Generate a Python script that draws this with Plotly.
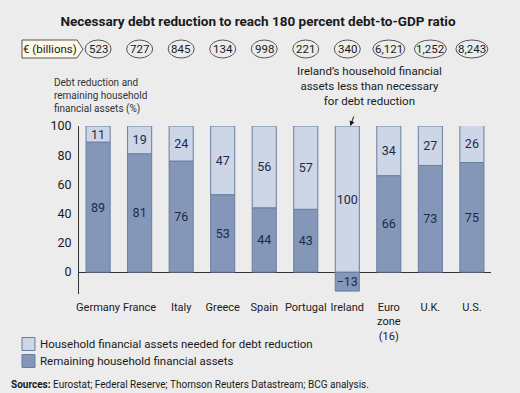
import plotly.graph_objects as go

countries = ["Germany", "France", "Italy", "Greece", "Spain", "Portugal",
             "Ireland", "Euro<br>zone<br>(16)", "U.K.", "U.S."]
needed = [11, 19, 24, 47, 56, 57, 100, 34, 27, 26]
remaining = [89, 81, 76, 53, 44, 43, -13, 66, 73, 75]
debt_bn = ["523", "727", "845", "134", "998", "221", "340", "6,121", "1,252", "8,243"]
y_ticks = [0, 20, 40, 60, 80, 100]

W, H = 520, 393
ML, MR, MT, MB = 79, 29, 126, 99
PW, PH = W - ML - MR, H - MT - MB

def px_x(px):
    return (px - ML) / PW

def px_y(py):
    return (H - MB - py) / PH

FONT = "Roboto"
LIGHT = "#cdd6e6"
DARK = "#8597b9"
EDGE = "#6a7ca0"
TXT = "#1c2a48"
BG = "#ececec"

fig = go.Figure()
fig.add_trace(go.Bar(
    x=countries, y=remaining, name="Remaining household financial assets",
    marker=dict(color=DARK, line=dict(color=EDGE, width=1)),
    text=[str(v).replace("-", "\u2212") for v in remaining],
    textposition="inside", insidetextanchor="middle", textangle=0,
    textfont=dict(family=FONT, size=12.5, color=TXT), constraintext="none",
    showlegend=False, hoverinfo="skip",
))
fig.add_trace(go.Bar(
    x=countries, y=needed, name="Household financial assets needed for debt reduction",
    marker=dict(color=LIGHT, line=dict(color=EDGE, width=1)),
    text=[str(v) for v in needed],
    textposition="inside", insidetextanchor="middle", textangle=0,
    textfont=dict(family=FONT, size=12.5, color=TXT), constraintext="none",
    showlegend=False, hoverinfo="skip",
))

shapes = []
annotations = []

# value ovals row
oval_y = px_y(49)
for c, v in zip(countries, debt_bn):
    half = 13 if len(v) <= 3 else 16
    shapes.append(dict(type="circle", xref="x", yref="paper",
                       xsizemode="pixel", ysizemode="pixel",
                       xanchor=c, yanchor=oval_y,
                       x0=-half, x1=half, y0=-9, y1=9,
                       line=dict(color="#555555", width=1)))
    annotations.append(dict(x=c, y=oval_y, xref="x", yref="paper", text=v,
                            showarrow=False, font=dict(family=FONT, size=11.5, color="#1a1a1a"),
                            xanchor="center", yanchor="middle"))

# "€ (billions)" pentagon label
pts = [(22, 40), (77, 40), (83, 49), (77, 58), (22, 58)]
path = "M " + " L ".join(f"{px_x(x):.5f},{px_y(y):.5f}" for x, y in pts) + " Z"
shapes.append(dict(type="path", xref="paper", yref="paper", path=path,
                   fillcolor="#fdf9e6", line=dict(color="#555555", width=1)))
annotations.append(dict(x=px_x(50), y=px_y(49), xref="paper", yref="paper",
                        text="€ (billions)", showarrow=False,
                        font=dict(family=FONT, size=11.5, color="#1a1a1a"),
                        xanchor="center", yanchor="middle"))

# y-axis title
annotations.append(dict(x=px_x(52), y=px_y(117), xref="paper", yref="paper",
                        text="Debt reduction and<br>remaining household<br>financial assets (%)",
                        showarrow=False, align="left", xanchor="left", yanchor="bottom",
                        font=dict(family=FONT, size=10, color="#333333")))

# Ireland note
annotations.append(dict(x="Ireland", y=100, xref="x", yref="y",
                        text="Ireland\u2019s household financial<br>assets less than necessary<br>for debt reduction",
                        showarrow=False, xanchor="center", yanchor="bottom",
                        xshift=22, yshift=16, align="center",
                        font=dict(family=FONT, size=11.5, color="#1a1a1a")))
annotations.append(dict(x="Ireland", y=100, xref="x", yref="y", text="",
                        showarrow=True, arrowhead=2, arrowsize=1, arrowwidth=1,
                        arrowcolor="#1a1a1a", ax=4, ay=-11, xshift=3))

# legend (manual)
legend_items = [(LIGHT, "Household financial assets needed for debt reduction", 344),
                (DARK, "Remaining household financial assets", 361)]
for col, label, cy in legend_items:
    shapes.append(dict(type="rect", xref="paper", yref="paper",
                       x0=px_x(22), x1=px_x(35), y0=px_y(cy + 6.5), y1=px_y(cy - 6.5),
                       fillcolor=col, line=dict(color=EDGE, width=1)))
    annotations.append(dict(x=px_x(38), y=px_y(cy), xref="paper", yref="paper",
                            text=label, showarrow=False, xanchor="left", yanchor="middle",
                            font=dict(family=FONT, size=11.5, color="#1a1a1a")))

# sources
annotations.append(dict(x=px_x(9), y=px_y(384), xref="paper", yref="paper",
                        text="<b>Sources:</b> Eurostat; Federal Reserve; Thomson Reuters Datastream; BCG analysis.",
                        showarrow=False, xanchor="left", yanchor="middle",
                        font=dict(family=FONT, size=10, color="#1a1a1a")))

fig.update_layout(
    width=W, height=H,
    margin=dict(l=ML, r=MR, t=MT, b=MB, pad=0, autoexpand=False),
    paper_bgcolor=BG, plot_bgcolor=BG,
    barmode="relative", bargap=0.42,
    title=dict(text="<b>Necessary debt reduction to reach 180 percent debt-to-GDP ratio</b>",
               x=258 / W, xref="container", xanchor="center",
               y=1 - 21 / H, yref="container", yanchor="middle",
               font=dict(family=FONT, size=13.5, color="#1a1a1a")),
    xaxis=dict(type="category", range=[-0.46, 9.46], showline=False, showgrid=False,
               ticks="", tickangle=0, automargin=False, ticklabelstandoff=5,
               tickfont=dict(family=FONT, size=11, color="#1a1a1a"),
               fixedrange=True),
    yaxis=dict(range=[-15, 100], tickvals=y_ticks, showgrid=False, automargin=False,
               showline=True, linecolor="#333333", linewidth=1,
               zeroline=True, zerolinecolor="#333333", zerolinewidth=1,
               ticks="", ticklabelstandoff=4, fixedrange=True,
               tickfont=dict(family=FONT, size=12.5, color="#1a1a1a")),
    shapes=shapes, annotations=annotations,
    uniformtext=dict(minsize=12, mode="show"),
    showlegend=False, hovermode=False,
)

fig.write_html(
    "out.html",
    config={"displayModeBar": False, "staticPlot": True},
    post_script="document.body.style.margin='0';document.body.style.padding='0';"
                "document.body.style.background='#ececec';",
)
